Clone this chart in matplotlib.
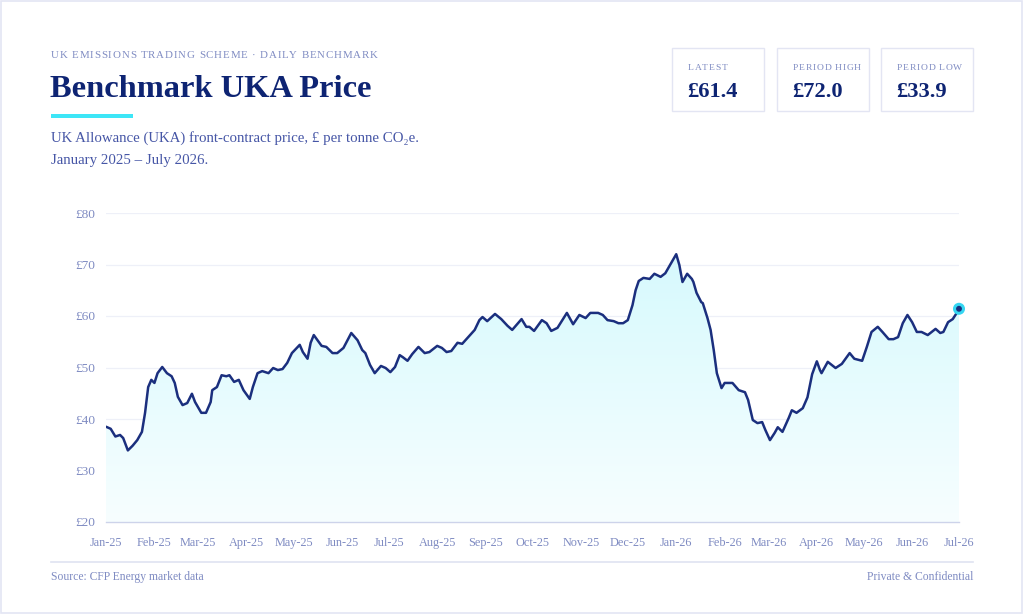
import numpy as np
import pandas as pd
import matplotlib
matplotlib.use("Agg")
import matplotlib.pyplot as plt
import matplotlib.dates as mdates
from matplotlib.colors import LinearSegmentedColormap
from matplotlib.patches import Rectangle
from matplotlib.lines import Line2D

# data: days since 1 Jan 2025, UKA front-contract price (GBP/t)
start = pd.Timestamp("2025-01-01")
days = [0, 3, 6, 9, 11, 14, 17, 20, 23, 25, 27, 29, 31, 33, 36, 39, 42, 44, 46, 49,
        52, 55, 57, 61, 64, 67, 68, 71, 74, 77, 79, 82, 85, 88, 92, 94, 97, 100, 104, 107,
        110, 113, 116, 119, 124, 126, 129, 131, 133, 138, 141, 145, 148, 152, 157, 161, 164, 166, 169, 172,
        176, 179, 182, 185, 188, 190, 193, 196, 200, 204, 207, 212, 215, 218, 221, 225, 228, 233, 236, 239,
        241, 244, 249, 253, 257, 260, 266, 269, 271, 274, 279, 282, 285, 289, 295, 299, 303, 307, 310, 315,
        318, 321, 325, 328, 331, 334, 337, 339, 341, 344, 348, 351, 355, 358, 361, 365, 367, 369, 372, 375,
        376, 378, 381, 382, 385, 387, 389, 391, 394, 396, 401, 405, 409, 411, 414, 417, 420, 422, 425, 428,
        430, 433, 437, 439, 442, 446, 449, 452, 455, 457, 458, 462, 467, 471, 476, 479, 484, 487, 490, 494,
        497, 501, 504, 507, 510, 513, 516, 519, 522, 526, 531, 534, 536, 539, 542, 545, 546]
price = [38.5, 38.1, 36.6, 36.9, 36.3, 33.9, 34.8, 35.9, 37.5, 41.2, 46.2, 47.6, 47.0, 48.9, 50.1, 48.9, 48.3, 47.0, 44.3, 42.7,
         43.1, 44.9, 43.3, 41.2, 41.2, 43.3, 45.6, 46.2, 48.5, 48.3, 48.5, 47.2, 47.6, 45.6, 43.9, 46.2, 48.9, 49.3, 48.9, 49.9,
         49.5, 49.7, 50.9, 52.8, 54.4, 53.0, 51.7, 54.8, 56.3, 54.2, 54.0, 52.8, 52.8, 53.8, 56.7, 55.3, 53.4, 52.8, 50.5, 48.9,
         50.3, 49.9, 49.1, 50.1, 52.4, 52.0, 51.3, 52.6, 54.0, 52.8, 53.0, 54.2, 53.8, 53.0, 53.2, 54.8, 54.6, 56.3, 57.3, 59.2,
         59.8, 59.0, 60.4, 59.4, 58.1, 57.3, 59.4, 57.9, 57.9, 57.1, 59.2, 58.6, 57.1, 57.7, 60.6, 58.4, 60.2, 59.6, 60.6, 60.6,
         60.2, 59.2, 59.0, 58.6, 58.6, 59.2, 62.1, 65.0, 66.8, 67.4, 67.2, 68.2, 67.6, 68.3, 69.9, 72.0, 69.9, 66.6, 68.2, 67.2,
         66.6, 64.5, 62.7, 62.5, 59.6, 57.3, 53.4, 48.9, 46.0, 47.0, 47.0, 45.6, 45.2, 43.7, 39.8, 39.2, 39.4, 37.9, 35.9, 37.3,
         38.4, 37.5, 40.2, 41.7, 41.2, 42.1, 44.2, 48.7, 51.2, 49.5, 48.9, 51.1, 49.9, 50.7, 52.8, 51.7, 51.3, 54.0, 56.9, 57.9,
         56.9, 55.5, 55.5, 55.9, 58.6, 60.2, 58.8, 56.9, 56.9, 56.3, 57.5, 56.7, 56.9, 58.8, 59.4, 60.8, 61.4]

kpi_labels = ["LATEST", "PERIOD HIGH", "PERIOD LOW"]
kpi_values = [price[-1], max(price), min(price)]

dates = start + pd.to_timedelta(days, unit="D")
xnum = mdates.date2num(dates)

NAVY = "#0e2473"
LINE = "#1b2f7e"
MUTED = "#7f8bc2"
SUB = "#4656a6"
SERIF = ["Liberation Serif", "DejaVu Serif"]
plt.rcParams["font.family"] = SERIF

W, H = 1024, 614
fig = plt.figure(figsize=(10.24, 6.14), dpi=100)
fig.patch.set_facecolor("white")


def px(x, y):
    return x / W, 1 - y / H


renderer = fig.canvas.get_renderer()


def tracked(x, y, s, size, color, track=1.6):
    # letter-spaced small caps label, x/y in pixels (left, baseline)
    for ch in s:
        if ch == " ":
            x += size * 0.35 + track
            continue
        t = fig.text(*px(x, y), ch, fontsize=size, color=color, va="baseline", ha="left")
        x += t.get_window_extent(renderer).width + track


# frame around the whole card
fig.add_artist(Rectangle((0.0005, 0.001), 0.998, 0.997, transform=fig.transFigure,
                         fill=False, edgecolor="#e3e5f4", lw=1.2))

# header
tracked(51, 58, "UK EMISSIONS TRADING SCHEME · DAILY BENCHMARK", 7.8, MUTED, 0.85)
fig.text(*px(50, 97), "Benchmark UKA Price", fontsize=23.4, fontweight="bold",
         color=NAVY, va="baseline")
fig.add_artist(Rectangle(px(51, 118), 82 / W, 4 / H, transform=fig.transFigure,
                         facecolor="#3de6f7", edgecolor="none"))
fig.text(*px(51, 142), "UK Allowance (UKA) front-contract price, £ per tonne CO₂e.",
         fontsize=10.7, color=SUB, va="baseline")
fig.text(*px(51, 164), "January 2025 – July 2026.", fontsize=10.7, color=SUB, va="baseline")

# KPI boxes
box_left = [672, 777, 881]
for bx, lab, val in zip(box_left, kpi_labels, kpi_values):
    fig.add_artist(Rectangle(px(bx, 111), 92 / W, 63 / H, transform=fig.transFigure,
                             fill=False, edgecolor="#e3e5f3", lw=1.0))
    tracked(bx + 16, 70, lab, 6.8, MUTED, 0.75)
    fig.text(*px(bx + 15, 97), f"£{val:.1f}", fontsize=16.2, fontweight="bold",
             color=NAVY, va="baseline")

# chart
ax = fig.add_axes([106 / W, 1 - 522 / H, 853 / W, 309 / H])
ax.set_facecolor("none")
ax.set_xlim(xnum[0], xnum[-1])
ax.set_ylim(20, 80)

grad = np.linspace(0, 1, 256).reshape(-1, 1)
cmap = LinearSegmentedColormap.from_list("fade", ["#f7feff", "#d5f9fd"])
im = ax.imshow(grad, extent=[xnum[0], xnum[-1], 20, 74], origin="lower",
               aspect="auto", cmap=cmap, zorder=1)
area = ax.fill_between(xnum, price, 20, color="none", lw=0)
im.set_clip_path(area.get_paths()[0], transform=ax.transData)

ax.plot(xnum, price, color=LINE, lw=1.8, solid_joinstyle="round",
        solid_capstyle="round", zorder=3)
ax.scatter(xnum[-1], price[-1], s=75, color="#35d6f2", zorder=4, edgecolor="none", clip_on=False)
ax.scatter(xnum[-1], price[-1], s=18, color=LINE, zorder=5, edgecolor="none", clip_on=False)

ax.set_yticks(range(20, 81, 10))
ax.set_yticklabels([f"£{v}" for v in range(20, 81, 10)])
ax.grid(axis="y", color="#eef0f8", lw=0.9)
ax.set_axisbelow(True)
ax.xaxis.set_major_locator(mdates.MonthLocator())
ax.xaxis.set_major_formatter(mdates.DateFormatter("%b-%y"))
ax.tick_params(axis="both", length=0, labelsize=8.8, labelcolor=MUTED)
ax.tick_params(axis="y", labelsize=9.6, pad=8)
ax.tick_params(axis="x", pad=11)
for side in ["top", "right", "left"]:
    ax.spines[side].set_visible(False)
ax.spines["bottom"].set_color("#cdd3ea")
ax.spines["bottom"].set_linewidth(1.0)

# footer
fig.add_artist(Line2D([51 / W, 973 / W], [1 - 562 / H] * 2, transform=fig.transFigure,
                      color="#dfe3f1", lw=1.2))
fig.text(*px(51, 580), "Source: CFP Energy market data", fontsize=8.4, color=MUTED, va="baseline")
fig.text(*px(973, 580), "Private & Confidential", fontsize=8.4, color=MUTED,
         va="baseline", ha="right")

fig.savefig("out.png", dpi=100, facecolor="white")
